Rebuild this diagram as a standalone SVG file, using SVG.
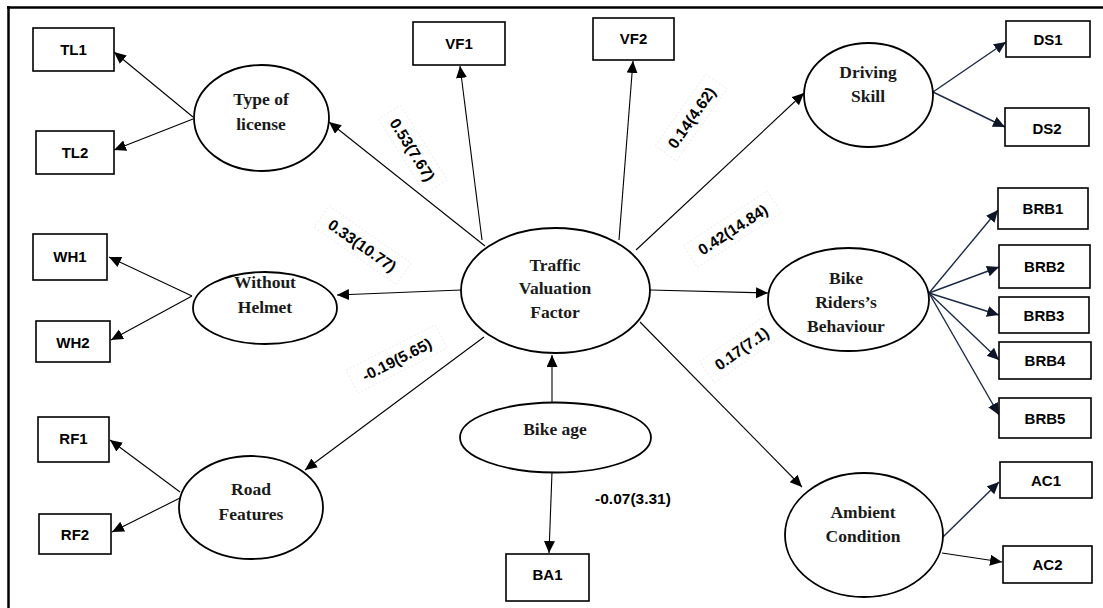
<svg xmlns="http://www.w3.org/2000/svg" width="1103" height="608" viewBox="0 0 1103 608">
<style>
.bg{fill:#fff}
.box{fill:#fff;stroke:#000;stroke-width:1.6}
.ell{fill:#fff;stroke:#000;stroke-width:1.8}
.bt{font-family:"Liberation Sans",Arial,sans-serif;font-weight:bold;font-size:15px;text-anchor:middle;fill:#000}
.et{font-family:"Liberation Serif","Times New Roman",serif;font-weight:bold;font-size:17.5px;text-anchor:middle;fill:#1a1a1a}
.lt{font-family:"Liberation Sans",Arial,sans-serif;font-weight:bold;font-size:15.5px;text-anchor:middle;fill:#000}
.lb{fill:none;stroke:#ededed;stroke-width:1;stroke-dasharray:2 2}
.c{stroke:#000;stroke-width:1.1;fill:none;marker-end:url(#ah)}
.n{stroke:#1c2a48;stroke-width:1.4;fill:none;marker-end:url(#ahn)}
</style>
<defs>
<marker id="ah" markerUnits="userSpaceOnUse" markerWidth="14" markerHeight="12" refX="12" refY="5.5" orient="auto">
<path d="M0,0 L12,5.5 L0,11 Z" fill="#000"/>
</marker>
<marker id="ahn" markerUnits="userSpaceOnUse" markerWidth="14" markerHeight="12" refX="12" refY="5.5" orient="auto">
<path d="M0,0 L12,5.5 L0,11 Z" fill="#0d1526"/>
</marker>
</defs>
<rect class="bg" x="0" y="0" width="1103" height="608"/>
<g id="frame">
<line x1="7" y1="7.5" x2="1103" y2="7.5" stroke="#000" stroke-width="2.5"/>
<line x1="8.5" y1="6" x2="8.5" y2="608" stroke="#000" stroke-width="2.5"/>
</g>
<g id="connectors">
<line class="c" x1="193" y1="117" x2="114" y2="52"/>
<line class="c" x1="193" y1="119" x2="114" y2="150"/>
<line class="c" x1="485" y1="246" x2="329" y2="122"/>
<line class="c" x1="482" y1="240" x2="460" y2="66"/>
<line class="c" x1="619" y1="240" x2="633" y2="61"/>
<line class="c" x1="636" y1="250" x2="804" y2="93"/>
<line class="n" x1="933" y1="92" x2="1006" y2="42"/>
<line class="n" x1="933" y1="92" x2="1005" y2="127"/>
<line class="c" x1="461" y1="290" x2="337" y2="295"/>
<line class="c" x1="192" y1="296" x2="109" y2="257"/>
<line class="c" x1="192" y1="296" x2="111" y2="340"/>
<line class="c" x1="650" y1="290" x2="768" y2="293"/>
<line class="n" x1="929" y1="293" x2="998" y2="210"/>
<line class="n" x1="929" y1="293" x2="999" y2="267"/>
<line class="n" x1="929" y1="293" x2="999" y2="315"/>
<line class="n" x1="929" y1="293" x2="999" y2="360"/>
<line class="n" x1="929" y1="293" x2="999" y2="415"/>
<line class="c" x1="484" y1="337" x2="305" y2="470"/>
<line class="c" x1="180" y1="492" x2="110" y2="440"/>
<line class="c" x1="180" y1="498" x2="112" y2="532"/>
<line class="c" x1="640" y1="322" x2="802" y2="487"/>
<line class="n" x1="943" y1="537" x2="999" y2="482"/>
<line class="c" x1="942" y1="553" x2="1002" y2="562"/>
<line class="c" x1="552" y1="403" x2="552" y2="355"/>
<line class="c" x1="552" y1="472" x2="549" y2="553"/>
</g>
<g id="labels">
<g transform="translate(412,150) rotate(58)"><rect class="lb" x="-44" y="-14" width="88" height="26"/><text class="lt" x="0" y="5">0.53(7.67)</text></g>
<g transform="translate(692,118) rotate(-55)"><rect class="lb" x="-44" y="-14" width="88" height="26"/><text class="lt" x="0" y="5">0.14(4.62)</text></g>
<g transform="translate(362,246) rotate(35)"><rect class="lb" x="-50" y="-14" width="100" height="26"/><text class="lt" x="0" y="5">0.33(10.77)</text></g>
<g transform="translate(733,230) rotate(-33)"><rect class="lb" x="-50" y="-14" width="100" height="26"/><text class="lt" x="0" y="5">0.42(14.84)</text></g>
<g transform="translate(397,360) rotate(-27)"><rect class="lb" x="-50" y="-14" width="100" height="26"/><text class="lt" x="0" y="5">-0.19(5.65)</text></g>
<g transform="translate(742,349) rotate(-35)"><rect class="lb" x="-42" y="-14" width="84" height="26"/><text class="lt" x="0" y="5">0.17(7.1)</text></g>
<text class="lt" x="633" y="504">-0.07(3.31)</text>
</g>
<g id="TL1"><rect class="box" x="33" y="28" width="81" height="43"/><text class="bt" x="73.5" y="55">TL1</text></g>
<g id="TL2"><rect class="box" x="36" y="131" width="78" height="43"/><text class="bt" x="75" y="158">TL2</text></g>
<g id="VF1"><rect class="box" x="413" y="22" width="92" height="43"/><text class="bt" x="459" y="48.5">VF1</text></g>
<g id="VF2"><rect class="box" x="593" y="18" width="81" height="42"/><text class="bt" x="633.5" y="43.5">VF2</text></g>
<g id="DS1"><rect class="box" x="1006" y="21" width="84" height="36"/><text class="bt" x="1048" y="44.5">DS1</text></g>
<g id="DS2"><rect class="box" x="1005" y="108" width="84" height="38"/><text class="bt" x="1047" y="133.5">DS2</text></g>
<g id="WH1"><rect class="box" x="33" y="234" width="74" height="46"/><text class="bt" x="70" y="262">WH1</text></g>
<g id="WH2"><rect class="box" x="36" y="321" width="74" height="41"/><text class="bt" x="73" y="347.5">WH2</text></g>
<g id="BRB1"><rect class="box" x="998" y="188" width="90" height="41"/><text class="bt" x="1043" y="214">BRB1</text></g>
<g id="BRB2"><rect class="box" x="999" y="245" width="91" height="43"/><text class="bt" x="1044.5" y="271.5">BRB2</text></g>
<g id="BRB3"><rect class="box" x="999" y="297" width="90" height="36"/><text class="bt" x="1044" y="320.5">BRB3</text></g>
<g id="BRB4"><rect class="box" x="999" y="342" width="92" height="37"/><text class="bt" x="1045" y="366">BRB4</text></g>
<g id="BRB5"><rect class="box" x="999" y="398" width="92" height="40"/><text class="bt" x="1045" y="423.5">BRB5</text></g>
<g id="RF1"><rect class="box" x="38" y="417" width="71" height="45"/><text class="bt" x="73.5" y="443.5">RF1</text></g>
<g id="RF2"><rect class="box" x="39" y="514" width="72" height="40"/><text class="bt" x="75" y="539.5">RF2</text></g>
<g id="AC1"><rect class="box" x="1000" y="462" width="92" height="36"/><text class="bt" x="1046" y="485.5">AC1</text></g>
<g id="AC2"><rect class="box" x="1003" y="546" width="89" height="37"/><text class="bt" x="1047.5" y="570">AC2</text></g>
<g id="BA1"><rect class="box" x="506" y="554" width="83" height="47"/><text class="bt" x="547.5" y="580">BA1</text></g>
<g id="TypeOfLicense"><ellipse class="ell" cx="261.5" cy="118" rx="67.5" ry="53"/><text class="et" x="261" y="105">Type of</text><text class="et" x="261" y="130">license</text></g>
<g id="DrivingSkill"><ellipse class="ell" cx="868.5" cy="95" rx="64.5" ry="52"/><text class="et" x="868" y="78">Driving</text><text class="et" x="868" y="102">Skill</text></g>
<g id="WithoutHelmet"><ellipse class="ell" cx="265" cy="308" rx="72" ry="36"/><text class="et" x="265" y="288">Without</text><text class="et" x="265" y="313">Helmet</text></g>
<g id="TrafficValuationFactor"><ellipse class="ell" cx="555.5" cy="290.5" rx="94.5" ry="62.5"/><text class="et" x="555" y="271">Traffic</text><text class="et" x="555" y="294">Valuation</text><text class="et" x="555" y="318">Factor</text></g>
<g id="BikeRidersBehaviour"><ellipse class="ell" cx="848.5" cy="299.5" rx="80.5" ry="51.5"/><text class="et" x="846" y="284">Bike</text><text class="et" x="846" y="308">Riders’s</text><text class="et" x="846" y="332">Behaviour</text></g>
<g id="RoadFeatures"><ellipse class="ell" cx="251" cy="507.5" rx="72" ry="51.5"/><text class="et" x="251" y="495">Road</text><text class="et" x="251" y="520">Features</text></g>
<g id="BikeAge"><ellipse class="ell" cx="555.5" cy="437.5" rx="95.5" ry="35"/><text class="et" x="555" y="435">Bike age</text></g>
<g id="AmbientCondition"><ellipse class="ell" cx="864" cy="535" rx="79" ry="62"/><text class="et" x="863" y="518">Ambient</text><text class="et" x="863" y="542">Condition</text></g>
</svg>
